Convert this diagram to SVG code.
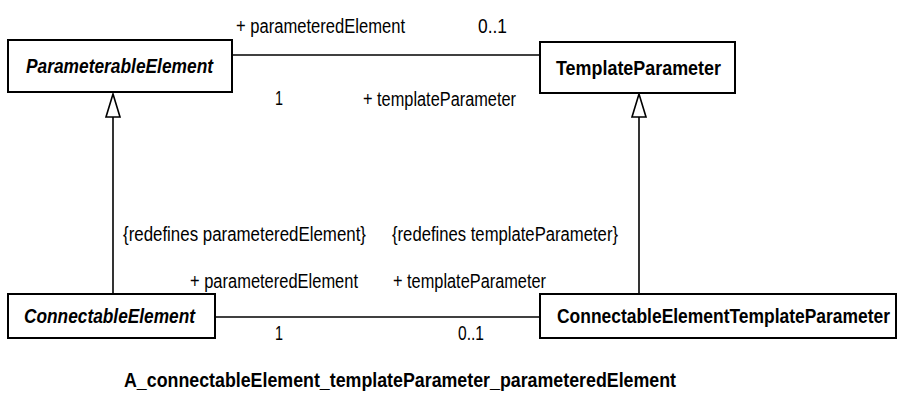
<svg xmlns="http://www.w3.org/2000/svg" width="898" height="394" viewBox="0 0 898 394">
<style>
.box{fill:#fff;stroke:#000;stroke-width:2}
.ln{fill:none;stroke:#000;stroke-width:1.6}
.tri{fill:#fff;stroke:#000;stroke-width:1.6}
.lbl{font-family:"Liberation Sans",Arial,sans-serif;font-size:20px;fill:#000}
.cls{font-family:"Liberation Sans",Arial,sans-serif;font-size:20px;font-weight:bold;fill:#000}
.it{font-style:italic}
</style>
<rect width="898" height="394" fill="#fff"/>
<g id="connectors">
<line class="ln" x1="232" y1="55" x2="540" y2="55"/>
<line class="ln" x1="215" y1="317" x2="540" y2="317"/>
<line class="ln" x1="113" y1="117" x2="113" y2="294"/>
<polygon class="tri" points="113,94 106,117 120,117"/>
<line class="ln" x1="639" y1="117" x2="639" y2="294"/>
<polygon class="tri" points="639,94 632,117 646,117"/>
<text class="lbl" x="236" y="33" textLength="169" lengthAdjust="spacingAndGlyphs">+ parameteredElement</text>
<text class="lbl" x="478" y="33" textLength="29" lengthAdjust="spacingAndGlyphs">0..1</text>
<text class="lbl" x="275" y="105" textLength="8" lengthAdjust="spacingAndGlyphs">1</text>
<text class="lbl" x="363" y="106" textLength="153" lengthAdjust="spacingAndGlyphs">+ templateParameter</text>
<text class="lbl" x="123" y="241" textLength="243" lengthAdjust="spacingAndGlyphs">{redefines parameteredElement}</text>
<text class="lbl" x="392" y="241" textLength="226" lengthAdjust="spacingAndGlyphs">{redefines templateParameter}</text>
<text class="lbl" x="190" y="288" textLength="168" lengthAdjust="spacingAndGlyphs">+ parameteredElement</text>
<text class="lbl" x="393" y="288" textLength="153" lengthAdjust="spacingAndGlyphs">+ templateParameter</text>
<text class="lbl" x="275" y="340" textLength="8" lengthAdjust="spacingAndGlyphs">1</text>
<text class="lbl" x="458" y="340" textLength="26" lengthAdjust="spacingAndGlyphs">0..1</text>
</g>
<g id="ParameterableElement">
<rect class="box" x="8" y="40" width="224" height="52"/>
<text class="cls it" x="26" y="73" textLength="187" lengthAdjust="spacingAndGlyphs">ParameterableElement</text>
</g>
<g id="TemplateParameter">
<rect class="box" x="540" y="42" width="195" height="51"/>
<text class="cls" x="556" y="75" textLength="165" lengthAdjust="spacingAndGlyphs">TemplateParameter</text>
</g>
<g id="ConnectableElement">
<rect class="box" x="8" y="294" width="207" height="44"/>
<text class="cls it" x="24" y="323" textLength="171" lengthAdjust="spacingAndGlyphs">ConnectableElement</text>
</g>
<g id="ConnectableElementTemplateParameter">
<rect class="box" x="540" y="294" width="356" height="44"/>
<text class="cls" x="557" y="323" textLength="333" lengthAdjust="spacingAndGlyphs">ConnectableElementTemplateParameter</text>
</g>
<text class="cls" x="124" y="387" font-size="21" textLength="552" lengthAdjust="spacingAndGlyphs">A_connectableElement_templateParameter_parameteredElement</text>
</svg>
